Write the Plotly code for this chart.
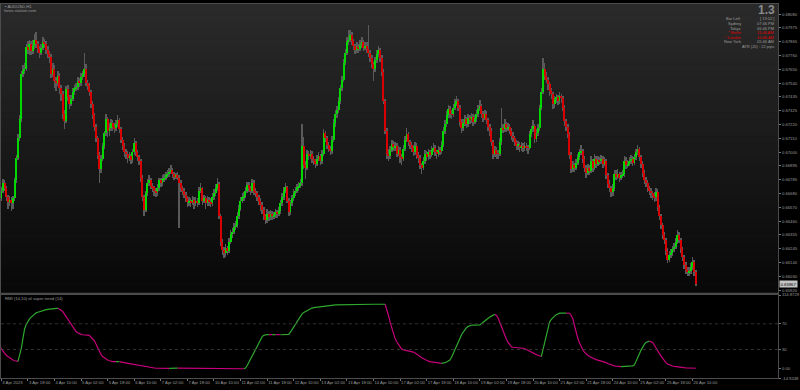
import plotly.graph_objects as go

W, H = 800, 390


def px(x):
    return x / W


def py(y):
    return 1 - y / H


# ---------------- data (AUDUSD, H1) ----------------
first_open = 0.66650
close = [
    0.66664, 0.66640, 0.66700, 0.66760, 0.66720, 0.66650, 0.66610, 0.66630, 0.66600, 0.66640,
    0.66780, 0.66958, 0.67113, 0.67260, 0.67616, 0.67640, 0.67655, 0.67825, 0.67800, 0.67850,
    0.67790, 0.67830, 0.67879, 0.67850, 0.67810, 0.67780, 0.67820, 0.67860, 0.67850, 0.67800,
    0.67770, 0.67750, 0.67616, 0.67650, 0.67560, 0.67540, 0.67600, 0.67500, 0.67453, 0.67300,
    0.67244, 0.67492, 0.67430, 0.67380, 0.67420, 0.67470, 0.67500, 0.67510, 0.67560, 0.67540,
    0.67592, 0.67610, 0.67655, 0.67540, 0.67520, 0.67476, 0.67380, 0.67290, 0.67200, 0.67113,
    0.66980, 0.66872, 0.66950, 0.67050, 0.67150, 0.67260, 0.67167, 0.67190, 0.67230, 0.67200,
    0.67190, 0.67220, 0.67250, 0.67180, 0.67100, 0.67050, 0.67000, 0.66989, 0.66958, 0.66970,
    0.66940, 0.67000, 0.67074, 0.67000, 0.66960, 0.66934, 0.66800, 0.66650, 0.66547, 0.66680,
    0.66760, 0.66780, 0.66740, 0.66725, 0.66700, 0.66687, 0.66720, 0.66780, 0.66760, 0.66790,
    0.66803, 0.66820, 0.66834, 0.66850, 0.66860, 0.66830, 0.66810, 0.66820, 0.66803, 0.66760,
    0.66720, 0.66700, 0.66670, 0.66640, 0.66610, 0.66620, 0.66610, 0.66630, 0.66600, 0.66620,
    0.66602, 0.66700, 0.66718, 0.66620, 0.66640, 0.66600, 0.66630, 0.66610, 0.66602, 0.66650,
    0.66679, 0.66720, 0.66756, 0.66500, 0.66300, 0.66238, 0.66215, 0.66250, 0.66230, 0.66300,
    0.66360, 0.66380, 0.66416, 0.66430, 0.66500, 0.66560, 0.66620, 0.66650, 0.66660, 0.66700,
    0.66741, 0.66720, 0.66700, 0.66760, 0.66700, 0.66680, 0.66650, 0.66620, 0.66590, 0.66550,
    0.66500, 0.66470, 0.66520, 0.66493, 0.66520, 0.66500, 0.66509, 0.66530, 0.66520, 0.66540,
    0.66600, 0.66650, 0.66700, 0.66725, 0.66620, 0.66532, 0.66600, 0.66640, 0.66679, 0.66700,
    0.66725, 0.66740, 0.66760, 0.67051, 0.66900, 0.66880, 0.66989, 0.66970, 0.66989, 0.66950,
    0.66930, 0.66911, 0.66950, 0.66970, 0.66930, 0.66990, 0.67151, 0.67113, 0.67060, 0.67030,
    0.67012, 0.67100, 0.67229, 0.67298, 0.67330, 0.67400, 0.67500, 0.67569, 0.67700, 0.67780,
    0.67863, 0.67880, 0.67918, 0.67870, 0.67830, 0.67800, 0.67825, 0.67810, 0.67840, 0.67860,
    0.67820, 0.67830, 0.67809, 0.67780, 0.67740, 0.67690, 0.67655, 0.67720, 0.67770, 0.67800,
    0.67740, 0.67631, 0.67400, 0.67167, 0.66989, 0.66973, 0.67020, 0.67066, 0.67040, 0.67051,
    0.66990, 0.67020, 0.66960, 0.66950, 0.67030, 0.67100, 0.67143, 0.67080, 0.67060, 0.67035,
    0.67000, 0.67050, 0.66980, 0.66958, 0.66900, 0.66880, 0.66930, 0.66989, 0.66960, 0.67000,
    0.66980, 0.67020, 0.67035, 0.67000, 0.66989, 0.67020, 0.67010, 0.67060, 0.67167, 0.67220,
    0.67290, 0.67337, 0.67300, 0.67298, 0.67350, 0.67380, 0.67399, 0.67350, 0.67240, 0.67190,
    0.67230, 0.67260, 0.67220, 0.67267, 0.67250, 0.67280, 0.67240, 0.67260, 0.67300, 0.67340,
    0.67360, 0.67300, 0.67267, 0.67298, 0.67250, 0.67200, 0.67167, 0.67080, 0.66989, 0.67020,
    0.66990, 0.66989, 0.67080, 0.67190, 0.67180, 0.67221, 0.67190, 0.67200, 0.67167, 0.67130,
    0.67113, 0.67080, 0.67051, 0.67060, 0.67040, 0.67051, 0.67035, 0.67050, 0.67040, 0.67035,
    0.67143, 0.67180, 0.67206, 0.67105, 0.67150, 0.67190, 0.67345, 0.67476, 0.67655, 0.67600,
    0.67570, 0.67531, 0.67480, 0.67453, 0.67376, 0.67414, 0.67430, 0.67400, 0.67440, 0.67422,
    0.67350, 0.67244, 0.67200, 0.67143, 0.66980, 0.66872, 0.66900, 0.66880, 0.66919, 0.66960,
    0.67000, 0.67012, 0.66950, 0.66880, 0.66841, 0.66880, 0.66857, 0.66934, 0.66880, 0.66950,
    0.66911, 0.66940, 0.66930, 0.66950, 0.66911, 0.66930, 0.66820, 0.66756, 0.66720, 0.66687,
    0.66720, 0.66834, 0.66810, 0.66834, 0.66803, 0.66820, 0.66834, 0.66934, 0.66900, 0.66911,
    0.66930, 0.66950, 0.66920, 0.66960, 0.67000, 0.67027, 0.66960, 0.66911, 0.66840, 0.66780,
    0.66760, 0.66720, 0.66700, 0.66679, 0.66660, 0.66648, 0.66690, 0.66571, 0.66500, 0.66430,
    0.66354, 0.66315, 0.66230, 0.66160, 0.66200, 0.66215, 0.66240, 0.66261, 0.66300, 0.66354,
    0.66315, 0.66240, 0.66184, 0.66120, 0.66083, 0.66060, 0.66070, 0.66099, 0.66145, 0.66060,
    0.65967,
]
high = [
    0.66690, 0.66700, 0.66730, 0.66790, 0.66780, 0.66740, 0.66670, 0.66660, 0.66650, 0.66660,
    0.66800, 0.66980, 0.67140, 0.67290, 0.67640, 0.67680, 0.67700, 0.67850, 0.67870, 0.67880,
    0.67870, 0.67880, 0.67930, 0.67940, 0.67870, 0.67830, 0.67850, 0.67900, 0.67890, 0.67870,
    0.67830, 0.67790, 0.67770, 0.67700, 0.67680, 0.67590, 0.67640, 0.67620, 0.67530, 0.67480,
    0.67330, 0.67520, 0.67530, 0.67450, 0.67450, 0.67500, 0.67530, 0.67540, 0.67590, 0.67580,
    0.67620, 0.67640, 0.67780, 0.67690, 0.67570, 0.67540, 0.67490, 0.67400, 0.67310, 0.67220,
    0.67130, 0.67000, 0.66980, 0.67070, 0.67170, 0.67300, 0.67280, 0.67230, 0.67260, 0.67250,
    0.67230, 0.67250, 0.67290, 0.67270, 0.67200, 0.67120, 0.67070, 0.67030, 0.67010, 0.67000,
    0.66990, 0.67030, 0.67110, 0.67090, 0.67020, 0.66980, 0.66950, 0.66820, 0.66670, 0.66700,
    0.66790, 0.66820, 0.66800, 0.66760, 0.66740, 0.66720, 0.66750, 0.66800, 0.66800, 0.66820,
    0.66830, 0.66850, 0.66860, 0.66880, 0.66900, 0.66880, 0.66850, 0.66840, 0.66850, 0.66820,
    0.66780, 0.66740, 0.66720, 0.66690, 0.66660, 0.66650, 0.66640, 0.66660, 0.66650, 0.66650,
    0.66640, 0.66730, 0.66760, 0.66730, 0.66670, 0.66660, 0.66660, 0.66650, 0.66640, 0.66680,
    0.66710, 0.66750, 0.66800, 0.66770, 0.66520, 0.66320, 0.66260, 0.66280, 0.66270, 0.66330,
    0.66390, 0.66410, 0.66450, 0.66460, 0.66530, 0.66590, 0.66650, 0.66680, 0.66690, 0.66730,
    0.66770, 0.66770, 0.66740, 0.66790, 0.66780, 0.66720, 0.66700, 0.66670, 0.66640, 0.66610,
    0.66570, 0.66520, 0.66560, 0.66540, 0.66550, 0.66540, 0.66530, 0.66560, 0.66550, 0.66570,
    0.66630, 0.66680, 0.66730, 0.66760, 0.66740, 0.66640, 0.66630, 0.66670, 0.66710, 0.66730,
    0.66750, 0.66770, 0.66790, 0.67221, 0.67120, 0.66930, 0.67020, 0.67010, 0.67020, 0.67010,
    0.66970, 0.66950, 0.66980, 0.67000, 0.66990, 0.67020, 0.67180, 0.67170, 0.67130, 0.67080,
    0.67050, 0.67130, 0.67260, 0.67330, 0.67360, 0.67430, 0.67530, 0.67600, 0.67730, 0.67810,
    0.67900, 0.67960, 0.67960, 0.67940, 0.67890, 0.67850, 0.67860, 0.67850, 0.67880, 0.67900,
    0.67880, 0.67860, 0.67860, 0.68000, 0.67800, 0.67760, 0.67710, 0.67750, 0.67800, 0.67830,
    0.67820, 0.67760, 0.67650, 0.67420, 0.67190, 0.67030, 0.67050, 0.67100, 0.67090, 0.67080,
    0.67070, 0.67050, 0.67040, 0.66990, 0.67060, 0.67130, 0.67190, 0.67160, 0.67100, 0.67080,
    0.67060, 0.67080, 0.67070, 0.67000, 0.66980, 0.66920, 0.66960, 0.67020, 0.67010, 0.67030,
    0.67020, 0.67050, 0.67070, 0.67060, 0.67020, 0.67050, 0.67040, 0.67090, 0.67200, 0.67250,
    0.67320, 0.67370, 0.67360, 0.67330, 0.67380, 0.67420, 0.67440, 0.67420, 0.67370, 0.67260,
    0.67260, 0.67290, 0.67280, 0.67300, 0.67290, 0.67310, 0.67300, 0.67290, 0.67330, 0.67370,
    0.67410, 0.67380, 0.67320, 0.67330, 0.67320, 0.67270, 0.67220, 0.67190, 0.67100, 0.67050,
    0.67040, 0.67020, 0.67110, 0.67345, 0.67220, 0.67260, 0.67240, 0.67230, 0.67220, 0.67190,
    0.67160, 0.67130, 0.67100, 0.67090, 0.67080, 0.67080, 0.67070, 0.67080, 0.67070, 0.67060,
    0.67170, 0.67210, 0.67250, 0.67220, 0.67180, 0.67220, 0.67370, 0.67500, 0.67740, 0.67700,
    0.67630, 0.67590, 0.67550, 0.67500, 0.67470, 0.67440, 0.67460, 0.67450, 0.67470, 0.67460,
    0.67440, 0.67370, 0.67260, 0.67220, 0.67160, 0.67000, 0.66930, 0.66920, 0.66950, 0.66990,
    0.67030, 0.67060, 0.67030, 0.66970, 0.66900, 0.66910, 0.66900, 0.66970, 0.66950, 0.66990,
    0.66970, 0.66970, 0.66960, 0.66980, 0.66970, 0.66960, 0.66950, 0.66840, 0.66780, 0.66740,
    0.66750, 0.66860, 0.66860, 0.66870, 0.66850, 0.66850, 0.66860, 0.66970, 0.66960, 0.66940,
    0.66960, 0.66980, 0.66970, 0.66990, 0.67030, 0.67060, 0.67040, 0.66980, 0.66930, 0.66860,
    0.66810, 0.66780, 0.66740, 0.66720, 0.66700, 0.66690, 0.66720, 0.66710, 0.66590, 0.66520,
    0.66450, 0.66380, 0.66330, 0.66250, 0.66230, 0.66240, 0.66270, 0.66290, 0.66330, 0.66390,
    0.66380, 0.66330, 0.66260, 0.66200, 0.66140, 0.66100, 0.66100, 0.66130, 0.66180, 0.66160,
    0.66080,
]
low = [
    0.66620, 0.66600, 0.66620, 0.66680, 0.66700, 0.66620, 0.66560, 0.66580, 0.66540, 0.66560,
    0.66620, 0.66760, 0.66940, 0.67090, 0.67240, 0.67590, 0.67610, 0.67640, 0.67770, 0.67760,
    0.67760, 0.67770, 0.67810, 0.67820, 0.67780, 0.67740, 0.67760, 0.67800, 0.67820, 0.67770,
    0.67740, 0.67700, 0.67580, 0.67590, 0.67500, 0.67480, 0.67520, 0.67460, 0.67400, 0.67260,
    0.67180, 0.67230, 0.67400, 0.67340, 0.67360, 0.67400, 0.67450, 0.67480, 0.67490, 0.67510,
    0.67520, 0.67570, 0.67590, 0.67520, 0.67490, 0.67440, 0.67350, 0.67260, 0.67170, 0.67080,
    0.66950, 0.66760, 0.66840, 0.66930, 0.67030, 0.67130, 0.67120, 0.67130, 0.67170, 0.67170,
    0.67150, 0.67170, 0.67200, 0.67150, 0.67070, 0.67020, 0.66960, 0.66950, 0.66920, 0.66930,
    0.66910, 0.66920, 0.66980, 0.66970, 0.66930, 0.66900, 0.66770, 0.66620, 0.66500, 0.66530,
    0.66660, 0.66740, 0.66710, 0.66690, 0.66660, 0.66650, 0.66660, 0.66700, 0.66730, 0.66740,
    0.66770, 0.66780, 0.66800, 0.66810, 0.66830, 0.66800, 0.66780, 0.66790, 0.66780, 0.66410,
    0.66690, 0.66670, 0.66640, 0.66610, 0.66570, 0.66580, 0.66570, 0.66590, 0.66560, 0.66580,
    0.66570, 0.66590, 0.66680, 0.66590, 0.66600, 0.66560, 0.66580, 0.66580, 0.66570, 0.66580,
    0.66630, 0.66660, 0.66700, 0.66480, 0.66270, 0.66200, 0.66170, 0.66180, 0.66200, 0.66210,
    0.66280, 0.66330, 0.66360, 0.66390, 0.66410, 0.66480, 0.66540, 0.66600, 0.66620, 0.66640,
    0.66680, 0.66690, 0.66670, 0.66680, 0.66670, 0.66650, 0.66620, 0.66590, 0.66540, 0.66520,
    0.66470, 0.66440, 0.66450, 0.66460, 0.66470, 0.66470, 0.66480, 0.66490, 0.66490, 0.66500,
    0.66520, 0.66580, 0.66630, 0.66680, 0.66600, 0.66500, 0.66510, 0.66580, 0.66620, 0.66660,
    0.66680, 0.66700, 0.66720, 0.66740, 0.66870, 0.66790, 0.66860, 0.66940, 0.66950, 0.66920,
    0.66900, 0.66880, 0.66890, 0.66930, 0.66900, 0.66910, 0.66970, 0.67080, 0.67030, 0.67000,
    0.66980, 0.66990, 0.67080, 0.67200, 0.67270, 0.67310, 0.67380, 0.67480, 0.67550, 0.67680,
    0.67760, 0.67840, 0.67860, 0.67840, 0.67800, 0.67770, 0.67780, 0.67780, 0.67790, 0.67820,
    0.67790, 0.67800, 0.67780, 0.67750, 0.67710, 0.67660, 0.67560, 0.67630, 0.67700, 0.67750,
    0.67710, 0.67600, 0.67380, 0.67140, 0.66950, 0.66930, 0.66950, 0.67000, 0.67010, 0.67010,
    0.66960, 0.66970, 0.66920, 0.66900, 0.66930, 0.67010, 0.67080, 0.67050, 0.67030, 0.67000,
    0.66970, 0.66980, 0.66950, 0.66920, 0.66870, 0.66830, 0.66860, 0.66910, 0.66930, 0.66940,
    0.66950, 0.66960, 0.67000, 0.66970, 0.66950, 0.66960, 0.66980, 0.66990, 0.67040, 0.67140,
    0.67200, 0.67270, 0.67270, 0.67260, 0.67280, 0.67330, 0.67360, 0.67320, 0.67210, 0.67150,
    0.67170, 0.67210, 0.67190, 0.67200, 0.67220, 0.67230, 0.67210, 0.67220, 0.67240, 0.67280,
    0.67320, 0.67270, 0.67240, 0.67250, 0.67220, 0.67170, 0.67130, 0.67050, 0.66950, 0.66960,
    0.66950, 0.66950, 0.66970, 0.67060, 0.67150, 0.67160, 0.67160, 0.67170, 0.67140, 0.67100,
    0.67080, 0.67050, 0.67020, 0.67020, 0.67000, 0.67010, 0.67000, 0.67010, 0.67010, 0.66990,
    0.67020, 0.67120, 0.67160, 0.67070, 0.67080, 0.67130, 0.67170, 0.67330, 0.67460, 0.67570,
    0.67540, 0.67490, 0.67440, 0.67420, 0.67340, 0.67350, 0.67390, 0.67370, 0.67380, 0.67390,
    0.67320, 0.67210, 0.67170, 0.67110, 0.66950, 0.66840, 0.66850, 0.66850, 0.66860, 0.66900,
    0.66940, 0.66980, 0.66920, 0.66850, 0.66800, 0.66820, 0.66820, 0.66840, 0.66850, 0.66860,
    0.66880, 0.66890, 0.66900, 0.66910, 0.66880, 0.66890, 0.66790, 0.66720, 0.66690, 0.66650,
    0.66660, 0.66700, 0.66780, 0.66790, 0.66770, 0.66780, 0.66800, 0.66810, 0.66870, 0.66880,
    0.66890, 0.66910, 0.66890, 0.66900, 0.66940, 0.66980, 0.66930, 0.66880, 0.66810, 0.66750,
    0.66730, 0.66690, 0.66670, 0.66640, 0.66630, 0.66610, 0.66620, 0.66540, 0.66470, 0.66400,
    0.66320, 0.66280, 0.66200, 0.66130, 0.66140, 0.66170, 0.66190, 0.66220, 0.66240, 0.66280,
    0.66290, 0.66210, 0.66150, 0.66090, 0.66050, 0.66030, 0.66030, 0.66050, 0.66080, 0.66030,
    0.65950,
]
# RMI (14,10) of super trend (14)
rmi = [
    38, 35.7, 31, 27, 24, 21, 19, 17, 15, 13.5,
    12.5, 12, 11.5, 20, 31.5, 47, 62, 69, 74, 77.7,
    80.5, 83, 85, 87, 88, 89, 90, 90.7, 91.4, 92,
    92.5, 93, 93.3, 93.6, 93.8, 94, 94.1, 93, 91, 89,
    85, 81, 77, 73, 68, 64, 60.5, 58, 56, 54.5,
    53.5, 53, 52.8, 52.5, 52.2, 52, 49, 46.5, 44, 38,
    32, 26, 22, 19, 17, 15, 13.5, 12.5, 11.5, 11,
    11, 11, 11.1, 11.2, 10.5, 10, 9.5, 9, 8.5, 8,
    7.5, 7, 6.5, 6, 5.5, 5, 4.6, 4.2, 3.7, 3.3,
    3, 2.6, 2.2, 1.8, 1.3, 0.8, 0.8, 0.8, 0.8, 0.8,
    0.8, 0.75, 0.7, 0.7, 0.75, 0.8, 0.85, 0.9, 0.9, 0.85,
    0.8, 0.7, 0.6, 0.55, 0.5, 0.45, 0.4, 0.35, 0.3, 0.25,
    0.2, 0.2, 0.2, 0.15, 0.15, 0.1, 0.1, 0.1, 0.1, 0.1,
    0.1, 0.1, 0.1, 0.05, 0.05, 0.05, 0.05, 0.05, 0, 0,
    0, 0, 0, 0, 0, 0, 0, 0, 0, 1,
    5, 10, 15.5, 21, 26.5, 32, 37, 42, 46.5, 50,
    52, 53, 53.3, 53.3, 53.2, 53.1, 53.2, 53.3, 53.2, 53.1,
    53, 53.1, 53.2, 53.3, 53.3, 53.4, 57, 61, 65, 70,
    74, 78, 82, 85.5, 87.5, 89, 91, 92.5, 93.5, 94.5,
    95.2, 95.6, 96, 96.5, 97, 97.4, 97.8, 98.1, 98.4, 98.7,
    98.9, 99, 99.2, 99.4, 99.5, 99.6, 99.7, 99.8, 99.9, 99.9,
    100, 100, 100, 100.1, 100.1, 100.2, 100.2, 100.2, 100.3, 100.3,
    100.3, 100.4, 100.4, 100.4, 100.4, 100.5, 100.5, 100.5, 100.5, 100.5,
    100.5, 100.5, 100.5, 100.5, 93, 83, 72.5, 63, 55, 47,
    42, 38.5, 34, 30.5, 29.5, 29, 28.5, 28, 27.7, 27.4,
    26, 24.5, 23, 21, 19, 17, 15.5, 14, 12.8, 11.8,
    11, 10.5, 10, 9.6, 9.3, 9, 8.7, 8.5, 8.6, 9.5,
    10.5, 12, 13.6, 18, 24, 30, 36.6, 42, 48, 53,
    57, 61, 64, 66, 67.4, 67.8, 68, 68.1, 68.1, 68.2,
    68.3, 70.5, 72.8, 75, 77, 79, 80.5, 82, 83.5, 85,
    83, 79, 72, 65, 58, 52, 46, 41, 37, 34,
    33.5, 33.3, 33.2, 33, 32.6, 32.2, 31.8, 31.5, 30, 28.5,
    27, 25.5, 24.5, 23.5, 22, 21, 20, 19, 30, 42,
    55, 67, 73, 77, 80, 82, 84, 85.5, 86.5, 86.6,
    86.6, 86.7, 86.7, 86.6, 86.5, 83, 78, 67, 56, 47,
    40, 34, 29.5, 26, 23, 21, 19, 17.5, 16.3, 15.2,
    14.3, 13.5, 12.8, 12, 11.5, 11, 9.5, 8.2, 7, 6,
    5.2, 4.5, 4, 3.6, 3.4, 3.3, 3.35, 3.4, 3.45, 3.5,
    3.55, 3.6, 4.5, 6, 11, 17, 23, 29, 34, 38,
    41, 42.5, 43, 42.5, 41, 37, 32, 27, 24, 20,
    16, 12.5, 9.5, 7.5, 6, 5, 4.2, 3.6, 3.1, 2.7,
    2.3, 2.1, 1.9, 1.7, 1.5, 1.3, 1.2, 1.1, 1, 0.9,
    0.8,
]
tick_bar = [2, 18, 34, 50, 66, 82, 98, 114, 130, 146, 162, 178, 194, 210,
            226, 242, 258, 274, 290, 306, 322, 338, 354, 370, 386, 402, 418]
tick_text = ["3 Apr 2023", "3 Apr 18:00", "4 Apr 10:00", "5 Apr 02:00", "5 Apr 18:00",
             "6 Apr 10:00", "7 Apr 02:00", "7 Apr 18:00", "10 Apr 10:00", "11 Apr 02:00",
             "11 Apr 18:00", "12 Apr 10:00", "13 Apr 02:00", "13 Apr 18:00", "14 Apr 10:00",
             "17 Apr 02:00", "17 Apr 18:00", "18 Apr 10:00", "19 Apr 02:00", "19 Apr 18:00",
             "20 Apr 10:00", "21 Apr 02:00", "21 Apr 18:00", "24 Apr 10:00", "25 Apr 02:00",
             "25 Apr 18:00", "26 Apr 10:00"]
price_ticks = [0.68080, 0.67975, 0.67865, 0.67760, 0.67650, 0.67540, 0.67435, 0.67325,
               0.67220, 0.67110, 0.67000, 0.66895, 0.66785, 0.66680, 0.66570, 0.66460,
               0.66355, 0.66245, 0.66140, 0.66030, 0.65920]
price_range = [0.65901, 0.68161]
rmi_ticks = [114.8729, 70, 30, 0, -14.9248]
rmi_tick_text = ["114.8729", "70", "30", "0.00", "-14.9248"]
rmi_levels = [70, 30]
info_labels = ["Bar Left", "Sydney", "Tokyo", "* Berlin", "* London", "New York"]
info_values = ["[ 13:52 ]", "07:46 PM", "06:46 PM", "11:46 AM", "10:46 AM", "05:46 AM"]
info_red = [False, False, False, True, True, False]
spread_text = "1.3"
atr_text = "ATR (20) : 22 pips"
symbol_text = "\u25aa AUDUSD,H1"
site_text = "forex-station.com"
indicator_title = "RMI (14,10) of super trend (14)"

# ---------------- styling ----------------
FONT = "Liberation Sans"
GREEN = "#00d800"
RED = "#d80000"
WICK = "#5a5a5a"
RMI_UP = "#2fa82f"
RMI_DN = "#c8007c"
AXIS = "#4c4c4c"
TXT = "#9c9c9c"

n = len(close)
idx = list(range(n))
opens = [first_open] + close[:-1]
bull = [i for i in idx if close[i] >= opens[i]]
bear = [i for i in idx if close[i] < opens[i]]

fig = go.Figure()
fig.add_trace(go.Bar(x=idx, y=[high[i] - low[i] for i in idx], base=low, width=0.3,
                     marker=dict(color=WICK, line_width=0), xaxis="x", yaxis="y"))
fig.add_trace(go.Bar(x=bull, y=[close[i] - opens[i] for i in bull], base=[opens[i] for i in bull],
                     width=0.72, marker=dict(color=GREEN, line_width=0), xaxis="x", yaxis="y"))
fig.add_trace(go.Bar(x=bear, y=[opens[i] - close[i] for i in bear], base=[close[i] for i in bear],
                     width=0.72, marker=dict(color=RED, line_width=0), xaxis="x", yaxis="y"))

# RMI coloured by direction (flat keeps previous colour)
seg = []
prev = "m"
for k in range(1, n):
    d = rmi[k] - rmi[k - 1]
    c = "g" if d > 0 else ("m" if d < 0 else prev)
    seg.append(c)
    prev = c
lines = {"g": ([], []), "m": ([], [])}
start = 0
for k in range(1, len(seg) + 1):
    if k == len(seg) or seg[k] != seg[start]:
        xs, ys = lines[seg[start]]
        xs.extend(idx[start:k + 1] + [None])
        ys.extend(rmi[start:k + 1] + [None])
        start = k
for key, col in (("m", RMI_DN), ("g", RMI_UP)):
    xs, ys = lines[key]
    fig.add_trace(go.Scatter(x=xs, y=ys, mode="lines", line=dict(color=col, width=1.2),
                             connectgaps=False, xaxis="x2", yaxis="y2"))

x_dom = [px(1), px(781)]
x_range = [1.8, 469.5]
tickfont = dict(family=FONT, size=4.2, color=TXT)

fig.update_layout(
    width=W, height=H, margin=dict(l=0, r=0, t=0, b=0),
    paper_bgcolor="#000000", plot_bgcolor="#000000",
    barmode="overlay", bargap=0, showlegend=False, hovermode=False,
    xaxis=dict(domain=x_dom, range=x_range, anchor="y", showticklabels=False, ticks="",
               showgrid=False, zeroline=False, showline=True, mirror=True,
               linecolor=AXIS, linewidth=1),
    yaxis=dict(domain=[py(293.5), py(1.0)], range=price_range, anchor="x", side="right",
               tickmode="array", tickvals=price_ticks,
               ticktext=[f"{v:.5f}" for v in price_ticks], tickfont=tickfont,
               ticks="outside", ticklen=2, tickcolor="#777777", showgrid=False,
               zeroline=False, showline=True, mirror=True, linecolor=AXIS, linewidth=1),
    xaxis2=dict(domain=x_dom, range=x_range, anchor="y2", tickmode="array",
                tickvals=tick_bar, ticktext=tick_text, ticklabelposition="outside right",
                tickangle=0, tickfont=tickfont, ticks="outside", ticklen=2,
                tickcolor="#777777", showgrid=False, zeroline=False, showline=True,
                mirror=True, linecolor=AXIS, linewidth=1),
    yaxis2=dict(domain=[py(380.2), py(295.8)], range=[rmi_ticks[-1], rmi_ticks[0]],
                anchor="x2", side="right", tickmode="array", tickvals=rmi_ticks,
                ticktext=rmi_tick_text, tickfont=tickfont, ticks="outside", ticklen=2,
                tickcolor="#777777", showgrid=False, zeroline=False, showline=True,
                mirror=True, linecolor=AXIS, linewidth=1),
)

# background gradient of the price pane (overlapping bands, no seams)
shapes = []
N = 48
for k in range(N):
    t = k / (N - 1)
    v = int(round(8 + (42 - 8) * t))
    shapes.append(dict(type="rect", xref="x domain", yref="y domain", x0=0, x1=1,
                       y0=k / N, y1=min(1.0, (k + 2) / N), fillcolor=f"rgb({v},{v},{v})",
                       line_width=0, layer="below"))
# pane separator
shapes.append(dict(type="rect", xref="paper", yref="paper", x0=px(1), x1=px(781),
                   y0=py(295.8), y1=py(293.5), fillcolor=AXIS, line_width=0))
for lv in rmi_levels:
    shapes.append(dict(type="line", xref="x2 domain", yref="y2", x0=0, x1=1, y0=lv, y1=lv,
                       line=dict(color="#404040", width=0.8, dash="dot")))
fig.update_layout(shapes=shapes)

ann = []
small = dict(family=FONT, size=4.2, color=TXT)
ann.append(dict(text=symbol_text, x=px(3), y=py(4), xanchor="left", yanchor="middle", font=small))
ann.append(dict(text=site_text, x=px(2), y=py(8), xanchor="left", yanchor="middle", font=small))
ann.append(dict(text=f"<b>{spread_text}</b>", x=px(780), y=py(7.5), xanchor="right",
                yanchor="middle", font=dict(family=FONT, size=12, color="#8a8a8a")))
for r, (lab, val, red) in enumerate(zip(info_labels, info_values, info_red)):
    yy = 16 + r * 4.67
    col = "#e00000" if red else TXT
    ann.append(dict(text=lab, x=px(746), y=py(yy), xanchor="right", yanchor="middle",
                    font=dict(family=FONT, size=4, color=col)))
    ann.append(dict(text=val, x=px(779), y=py(yy), xanchor="right", yanchor="middle",
                    font=dict(family=FONT, size=4, color=col)))
ann.append(dict(text=atr_text, x=px(779), y=py(16 + 6 * 4.67), xanchor="right",
                yanchor="middle", font=dict(family=FONT, size=4, color=TXT)))
ann.append(dict(text=indicator_title, x=px(3), y=py(299.5), xanchor="left", yanchor="middle",
                font=small))
for a in ann:
    a.update(xref="paper", yref="paper", showarrow=False)
    fig.add_annotation(**a)
# current bid box on the price scale
fig.add_annotation(xref="paper", yref="y", x=px(781.5), y=close[-1], text=f"{close[-1]:.5f}",
                   showarrow=False, xanchor="left", yanchor="middle", bgcolor="#c4c4c4",
                   borderpad=0.6, font=dict(family=FONT, size=4.2, color="#000000"))

fig.write_html("out.html", config={"displayModeBar": False})
